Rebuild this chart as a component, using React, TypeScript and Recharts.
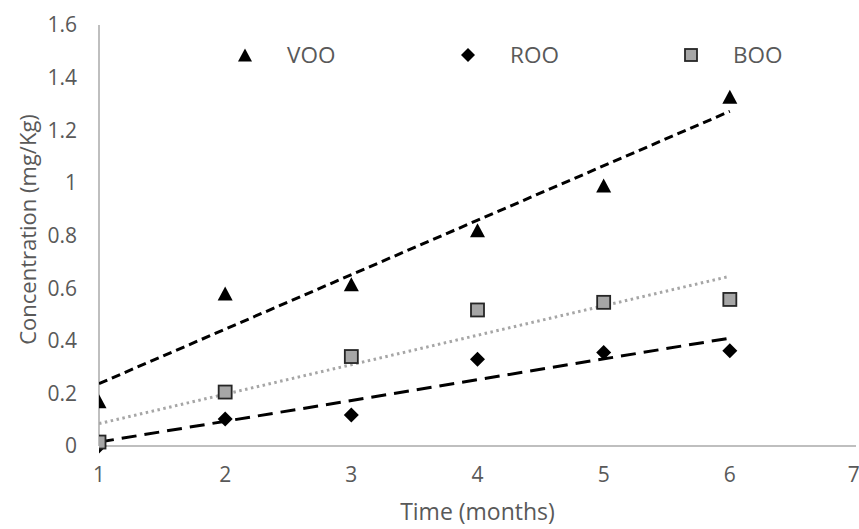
import React from 'react';
import { ComposedChart, Scatter, XAxis, YAxis, Legend } from 'recharts';

const months = [1, 2, 3, 4, 5, 6];
const vooValues = [0.17, 0.58, 0.615, 0.82, 0.99, 1.327];
const rooValues = [0.0, 0.103, 0.118, 0.33, 0.355, 0.362];
const booValues = [0.015, 0.205, 0.34, 0.517, 0.546, 0.557];

const trendMonths = [1, 6];
const vooTrend = [0.237, 1.272];
const rooTrend = [0.015, 0.41];
const booTrend = [0.085, 0.645];

const xTicks = [1, 2, 3, 4, 5, 6, 7];
const yTicks = [0, 0.2, 0.4, 0.6, 0.8, 1, 1.2, 1.4, 1.6];
const yTickLabels = ['0', '0.2', '0.4', '0.6', '0.8', '1', '1.2', '1.4', '1.6'];
const seriesNames = ['VOO', 'ROO', 'BOO'];

const FONT = '"Open Sans", sans-serif';
const TEXT = '#595959';
const AXIS = '#BFBFBF';

const toPoints = (xs: number[], ys: number[]) => xs.map((x, i) => ({ x, y: ys[i] }));

const vooData = toPoints(months, vooValues);
const rooData = toPoints(months, rooValues);
const booData = toPoints(months, booValues);
const vooTrendData = toPoints(trendMonths, vooTrend);
const rooTrendData = toPoints(trendMonths, rooTrend);
const booTrendData = toPoints(trendMonths, booTrend);

const Triangle = (cx: number, cy: number, w: number, h: number) => (
  <path d={`M${cx},${cy - h / 2} L${cx + w / 2},${cy + h / 2} L${cx - w / 2},${cy + h / 2} Z`} fill="#000" />
);
const Diamond = (cx: number, cy: number, s: number) => (
  <path d={`M${cx},${cy - s / 2} L${cx + s / 2},${cy} L${cx},${cy + s / 2} L${cx - s / 2},${cy} Z`} fill="#000" />
);
const Square = (cx: number, cy: number, s: number) => (
  <rect x={cx - s / 2} y={cy - s / 2} width={s} height={s} fill="#A6A6A6" stroke="#262626" strokeWidth={1.8} />
);

const TriShape = (p: any) => Triangle(p.cx, p.cy, 15, 14);
const DiaShape = (p: any) => Diamond(p.cx, p.cy, 15);
const SqShape = (p: any) => Square(p.cx, p.cy, 13);
const NoShape = () => <g />;

const legendMarkerX = [245, 468, 691];
const legendTextX = [287, 510, 733];

const LegendContent = () => (
  <svg width={859} height={30} style={{ display: 'block' }}>
    {Triangle(legendMarkerX[0], 15, 14, 13)}
    {Diamond(legendMarkerX[1], 15, 14)}
    {Square(legendMarkerX[2], 15, 12)}
    {seriesNames.map((n, i) => (
      <text key={n} x={legendTextX[i]} y={23} fontFamily={FONT} fontSize={22.5} fill={TEXT}>
        {n}
      </text>
    ))}
  </svg>
);

export default function App() {
  return (
    <div style={{ position: 'absolute', left: 0, top: 0 }}>
      <ComposedChart width={859} height={529} margin={{ top: 25, right: 3, left: 0, bottom: 0 }}>
        <XAxis
          type="number"
          dataKey="x"
          domain={[1, 7]}
          ticks={xTicks}
          allowDataOverflow
          height={83}
          tickLine={false}
          tickSize={0}
          tickMargin={21}
          axisLine={{ stroke: AXIS, strokeWidth: 2 }}
          tick={{ fill: TEXT, fontSize: 21, fontFamily: FONT }}
          label={{ value: 'Time (months)', position: 'insideBottom', offset: 9, fill: TEXT, fontSize: 23, fontFamily: FONT }}
        />
        <YAxis
          type="number"
          dataKey="y"
          domain={[0, 1.6]}
          ticks={yTicks}
          tickFormatter={(v: number) => yTickLabels[yTicks.indexOf(v)] ?? String(v)}
          width={99}
          tickLine={false}
          tickSize={0}
          tickMargin={22}
          axisLine={{ stroke: AXIS, strokeWidth: 2 }}
          tick={{ fill: TEXT, fontSize: 21, fontFamily: FONT }}
          label={{
            value: 'Concentration (mg/Kg)',
            angle: -90,
            position: 'insideLeft',
            offset: 28,
            dy: -6,
            fill: TEXT,
            fontSize: 22,
            fontFamily: FONT,
            style: { textAnchor: 'middle' },
          }}
        />
        <Legend
          verticalAlign="middle"
          align="center"
          content={LegendContent}
          wrapperStyle={{ position: 'absolute', top: 40, left: 0, width: 859, height: 30 }}
        />
        <Scatter data={vooTrendData} fill="none" shape={NoShape} legendType="none" isAnimationActive={false}
          line={{ stroke: '#000', strokeWidth: 3, strokeDasharray: '9 5' }} />
        <Scatter data={booTrendData} fill="none" shape={NoShape} legendType="none" isAnimationActive={false}
          line={{ stroke: '#A6A6A6', strokeWidth: 3, strokeDasharray: '2.5 3.5' }} />
        <Scatter data={rooTrendData} fill="none" shape={NoShape} legendType="none" isAnimationActive={false}
          line={{ stroke: '#000', strokeWidth: 3, strokeDasharray: '15 8' }} />
        <Scatter name="VOO" data={vooData} shape={TriShape} isAnimationActive={false} />
        <Scatter name="ROO" data={rooData} shape={DiaShape} isAnimationActive={false} />
        <Scatter name="BOO" data={booData} shape={SqShape} isAnimationActive={false} />
      </ComposedChart>
    </div>
  );
}
